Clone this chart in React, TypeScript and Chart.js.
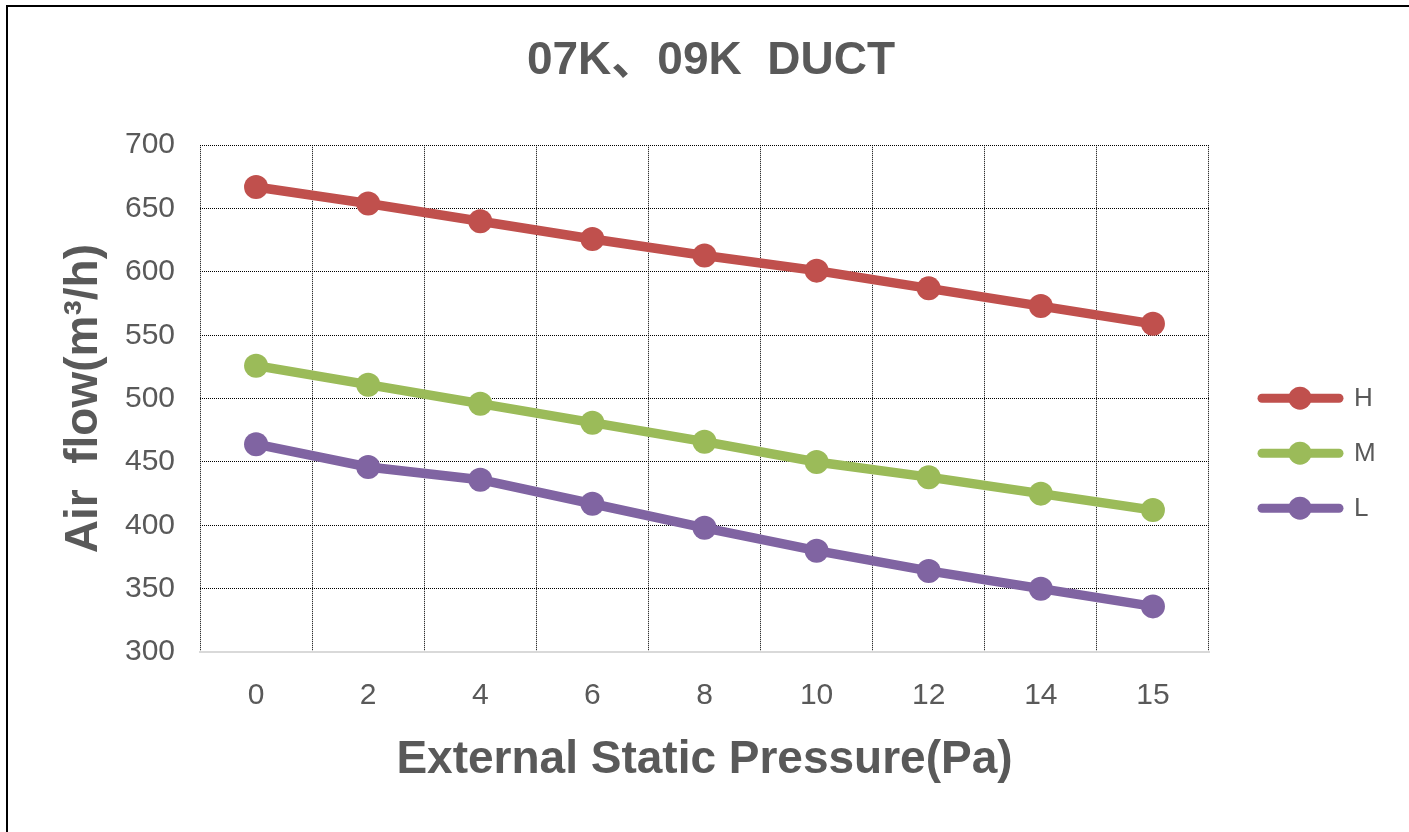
import React, { useEffect, useRef } from "react";
import { Chart, registerables } from "chart.js";

Chart.register(...registerables);

const chartTitle = "07K、09K  DUCT";
const xAxisTitle = "External Static Pressure(Pa)";
const yAxisTitle = "Air  flow(m³/h)";
const pressures = ["0", "2", "4", "6", "8", "10", "12", "14", "15"];
const seriesH = [667, 654, 640, 626, 613, 601, 587, 573, 559];
const seriesM = [526, 511, 496, 481, 466, 450, 438, 425, 412];
const seriesL = [464, 446, 436, 417, 398, 380, 364, 350, 336];
const seriesNames = ["H", "M", "L"];
const seriesColors = ["#C0504D", "#9BBB59", "#8064A2"];
const yMin = 300;
const yMax = 700;
const yStep = 50;

const FONT = "'Liberation Sans', 'Noto Sans CJK SC', Arial, sans-serif";
const TEXT = "#595959";

const legendPlugin = {
  id: "lineMarkerLegend",
  afterDraw(chart: any) {
    const { ctx, chartArea } = chart;
    const baseX = chartArea.right + 49;
    const baseY = chartArea.top + 253;
    const gap = 55;
    chart.data.datasets.forEach((ds: any, i: number) => {
      const y = baseY + i * gap;
      ctx.save();
      ctx.strokeStyle = ds.borderColor;
      ctx.lineWidth = 9;
      ctx.lineCap = "round";
      ctx.beginPath();
      ctx.moveTo(baseX + 4, y);
      ctx.lineTo(baseX + 81, y);
      ctx.stroke();
      ctx.fillStyle = ds.borderColor;
      ctx.beginPath();
      ctx.arc(baseX + 42, y, 11.5, 0, Math.PI * 2);
      ctx.fill();
      ctx.fillStyle = TEXT;
      ctx.font = `26px ${FONT}`;
      ctx.textBaseline = "middle";
      ctx.textAlign = "left";
      ctx.fillText(ds.label, baseX + 96, y + 1);
      ctx.restore();
    });
  },
};

export default function App() {
  const canvasRef = useRef<HTMLCanvasElement | null>(null);

  useEffect(() => {
    if (!canvasRef.current) return;
    const values = [seriesH, seriesM, seriesL];
    const chart = new Chart(canvasRef.current, {
      type: "line",
      data: {
        labels: pressures,
        datasets: values.map((v, i) => ({
          label: seriesNames[i],
          data: v,
          borderColor: seriesColors[i],
          backgroundColor: seriesColors[i],
          pointBackgroundColor: seriesColors[i],
          pointBorderColor: seriesColors[i],
          borderWidth: 9.5,
          pointRadius: 12,
          pointBorderWidth: 0,
          pointHoverRadius: 12,
          tension: 0,
          fill: false,
        })),
      },
      options: {
        responsive: false,
        animation: false,
        devicePixelRatio: 1,
        layout: { padding: { left: 13, right: 0, top: 0, bottom: 0 } },
        plugins: {
          legend: { display: false },
          tooltip: { enabled: false },
          title: {
            display: true,
            text: chartTitle,
            color: TEXT,
            font: { family: FONT, size: 46, weight: "bold" },
            padding: { top: 34, bottom: 56 },
          },
        },
        scales: {
          x: {
            type: "category",
            offset: true,
            grid: {
              display: true,
              offset: true,
              color: "#000000",
              lineWidth: 1,
              drawTicks: false,
            },
            border: { display: true, color: "#D9D9D9", width: 2, dash: [1, 1] },
            ticks: {
              color: TEXT,
              font: { family: FONT, size: 30 },
              padding: 26,
              maxRotation: 0,
            },
            title: {
              display: true,
              text: xAxisTitle,
              color: TEXT,
              font: { family: FONT, size: 46, weight: "bold" },
              padding: { top: 0, bottom: 44 },
            },
            afterFit(scale: any) {
              scale.height = 180;
            },
          },
          y: {
            type: "linear",
            min: yMin,
            max: yMax,
            grid: {
              display: true,
              color: "#000000",
              lineWidth: 1,
              drawTicks: false,
            },
            border: { display: false, dash: [1, 1] },
            ticks: {
              stepSize: yStep,
              color: TEXT,
              font: { family: FONT, size: 30 },
              padding: 25,
            },
            title: {
              display: true,
              text: yAxisTitle,
              color: TEXT,
              font: { family: FONT, size: 46, weight: "bold" },
              padding: { top: 44, bottom: 0 },
            },
            afterFit(scale: any) {
              scale.width = 187;
            },
          },
          legendSpace: {
            type: "linear",
            position: "right",
            display: true,
            grid: { display: false, drawTicks: false },
            border: { display: false },
            ticks: { display: false },
            afterFit(scale: any) {
              scale.width = 200;
            },
          },
        },
      },
      plugins: [legendPlugin],
    } as any);
    return () => chart.destroy();
  }, []);

  return (
    <div
      style={{
        position: "fixed",
        left: 0,
        top: 0,
        width: 1409,
        height: 832,
        background: "#ffffff",
        overflow: "hidden",
      }}
    >
      <div
        style={{
          position: "absolute",
          left: 6,
          top: 5,
          width: 1500,
          height: 900,
          border: "2px solid #000000",
        }}
      />
      <canvas
        ref={canvasRef}
        width={1409}
        height={832}
        style={{ position: "absolute", left: 0, top: 0, width: 1409, height: 832 }}
      />
    </div>
  );
}
